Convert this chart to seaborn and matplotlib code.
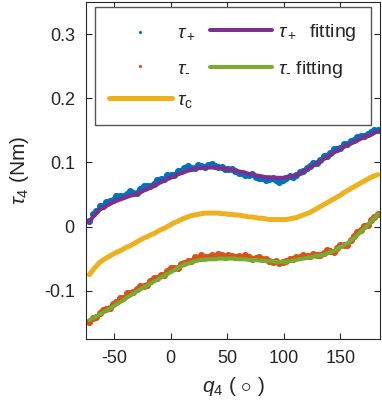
import matplotlib
matplotlib.use("Agg")
import matplotlib.pyplot as plt
import numpy as np
import pandas as pd
import seaborn as sns

# joint angle grid (deg)
q4 = [-72, -69, -66, -63, -60, -57, -54, -51, -48, -45, -42, -39, -36, -33, -30,
      -27, -24, -21, -18, -15, -12, -9, -6, -3, 0, 3, 6, 9, 12, 15, 18, 21, 24,
      27, 30, 33, 36, 39, 42, 45, 48, 51, 54, 57, 60, 63, 66, 69, 72, 75, 78, 81,
      84, 87, 90, 93, 96, 99, 102, 105, 108, 111, 114, 117, 120, 123, 126, 129,
      132, 135, 138, 141, 144, 147, 150, 153, 156, 159, 162, 165, 168, 171, 174,
      177, 180, 183]

# measured torque, positive direction (Nm)
tau_plus = [0.009, 0.020, 0.025, 0.032, 0.032, 0.039, 0.040, 0.042, 0.048, 0.048,
            0.047, 0.051, 0.055, 0.053, 0.053, 0.059, 0.064, 0.063, 0.064, 0.067,
            0.073, 0.074, 0.074, 0.080, 0.080, 0.081, 0.086, 0.086, 0.091, 0.094,
            0.092, 0.092, 0.096, 0.094, 0.093, 0.096, 0.098, 0.095, 0.093, 0.093,
            0.089, 0.090, 0.090, 0.087, 0.084, 0.084, 0.081, 0.081, 0.082, 0.078,
            0.075, 0.076, 0.072, 0.074, 0.075, 0.072, 0.070, 0.073, 0.076, 0.079,
            0.077, 0.080, 0.085, 0.086, 0.091, 0.094, 0.099, 0.099, 0.104, 0.110,
            0.110, 0.115, 0.121, 0.121, 0.122, 0.128, 0.129, 0.134, 0.135, 0.140,
            0.141, 0.141, 0.144, 0.148, 0.150, 0.151]

# measured torque, negative direction (Nm)
tau_minus = [-0.148, -0.142, -0.141, -0.135, -0.130, -0.128, -0.127, -0.120, -0.118, -0.112,
             -0.111, -0.104, -0.103, -0.102, -0.097, -0.092, -0.092, -0.091, -0.085, -0.080,
             -0.080, -0.075, -0.075, -0.070, -0.065, -0.065, -0.064, -0.058, -0.057, -0.053,
             -0.053, -0.048, -0.049, -0.045, -0.047, -0.048, -0.045, -0.047, -0.043, -0.045,
             -0.047, -0.044, -0.046, -0.048, -0.046, -0.048, -0.045, -0.048, -0.050, -0.049,
             -0.048, -0.051, -0.050, -0.053, -0.055, -0.053, -0.057, -0.056, -0.054, -0.051,
             -0.051, -0.048, -0.048, -0.045, -0.046, -0.046, -0.043, -0.044, -0.044, -0.041,
             -0.037, -0.038, -0.039, -0.033, -0.028, -0.028, -0.028, -0.021, -0.015, -0.008,
             -0.006, 0.001, 0.003, 0.011, 0.015, 0.020]

# fitted curves (Nm)
fit_plus = [0.006, 0.015, 0.021, 0.026, 0.029, 0.032, 0.035, 0.038, 0.040, 0.042,
            0.044, 0.046, 0.048, 0.049, 0.051, 0.053, 0.056, 0.058, 0.061, 0.063,
            0.066, 0.069, 0.071, 0.074, 0.076, 0.079, 0.081, 0.083, 0.085, 0.087,
            0.088, 0.090, 0.091, 0.091, 0.092, 0.092, 0.092, 0.092, 0.092, 0.091,
            0.090, 0.089, 0.088, 0.087, 0.086, 0.085, 0.084, 0.082, 0.081, 0.080,
            0.079, 0.078, 0.077, 0.077, 0.076, 0.076, 0.076, 0.076, 0.077, 0.078,
            0.079, 0.080, 0.083, 0.085, 0.088, 0.092, 0.095, 0.098, 0.101, 0.105,
            0.108, 0.111, 0.115, 0.118, 0.121, 0.124, 0.127, 0.129, 0.132, 0.134,
            0.137, 0.139, 0.141, 0.143, 0.146, 0.149]

fit_minus = [-0.146, -0.143, -0.140, -0.137, -0.134, -0.131, -0.128, -0.125, -0.121, -0.118,
             -0.115, -0.111, -0.108, -0.104, -0.101, -0.098, -0.095, -0.092, -0.089, -0.086,
             -0.083, -0.080, -0.077, -0.074, -0.071, -0.068, -0.065, -0.062, -0.059, -0.058,
             -0.056, -0.054, -0.053, -0.052, -0.052, -0.051, -0.051, -0.051, -0.050, -0.050,
             -0.050, -0.050, -0.050, -0.050, -0.051, -0.051, -0.051, -0.052, -0.052, -0.052,
             -0.053, -0.053, -0.054, -0.054, -0.054, -0.055, -0.055, -0.055, -0.055, -0.054,
             -0.053, -0.052, -0.051, -0.050, -0.049, -0.048, -0.047, -0.046, -0.045, -0.044,
             -0.042, -0.040, -0.038, -0.035, -0.032, -0.029, -0.026, -0.022, -0.018, -0.013,
             -0.008, -0.003, 0.002, 0.008, 0.013, 0.019]

tau_c = [-0.075, -0.068, -0.062, -0.056, -0.052, -0.049, -0.046, -0.043, -0.040, -0.038,
         -0.035, -0.032, -0.030, -0.027, -0.024, -0.021, -0.018, -0.016, -0.013, -0.011,
         -0.008, -0.005, -0.003, 0.000, 0.003, 0.006, 0.008, 0.011, 0.013, 0.015,
         0.017, 0.018, 0.019, 0.020, 0.021, 0.021, 0.021, 0.021, 0.021, 0.020,
         0.020, 0.019, 0.019, 0.018, 0.018, 0.017, 0.016, 0.015, 0.015, 0.014,
         0.013, 0.013, 0.012, 0.011, 0.011, 0.011, 0.011, 0.011, 0.011, 0.012,
         0.013, 0.014, 0.016, 0.018, 0.020, 0.022, 0.025, 0.028, 0.031, 0.034,
         0.037, 0.040, 0.043, 0.046, 0.049, 0.053, 0.056, 0.059, 0.062, 0.065,
         0.068, 0.071, 0.074, 0.077, 0.079, 0.081]

df = pd.DataFrame({"q4": q4, "tau_plus": tau_plus, "tau_minus": tau_minus,
                   "fit_plus": fit_plus, "fit_minus": fit_minus, "tau_c": tau_c})

sns.set_style("ticks")
plt.rcParams["font.family"] = ["Liberation Sans", "DejaVu Sans"]
plt.rcParams["mathtext.fontset"] = "custom"
plt.rcParams["mathtext.rm"] = "Liberation Sans"
plt.rcParams["mathtext.it"] = "Liberation Sans:italic"
plt.rcParams["axes.unicode_minus"] = False

blue, orange, yellow, purple, green = "#0072BD", "#D95319", "#EDB120", "#7E2F8E", "#77AC30"
dark = "#262626"

fig = plt.figure(figsize=(3.82, 4.01), dpi=100)
ax = fig.add_axes([0.225, 0.155, 0.77, 0.84])

sns.scatterplot(data=df, x="q4", y="tau_plus", ax=ax, color=blue, s=26,
                linewidth=0, label=r"$\tau_+$")
sns.scatterplot(data=df, x="q4", y="tau_minus", ax=ax, color=orange, s=26,
                linewidth=0, label=r"$\tau_\text{-}$")
sns.lineplot(data=df, x="q4", y="tau_c", ax=ax, color=yellow, lw=3.6,
             sort=False, label=r"$\tau_\mathrm{c}$")
sns.lineplot(data=df, x="q4", y="fit_plus", ax=ax, color=purple, lw=2.9,
             sort=False, label=r"$\tau_+$  fitting")
sns.lineplot(data=df, x="q4", y="fit_minus", ax=ax, color=green, lw=2.9,
             sort=False, label=r"$\tau_\text{-}$ fitting")

ax.set_xlim(-75, 185)
ax.set_ylim(-0.175, 0.35)
ax.set_xticks([-50, 0, 50, 100, 150])
ax.set_yticks([-0.1, 0, 0.1, 0.2, 0.3])
ax.set_yticklabels(["-0.1", "0", "0.1", "0.2", "0.3"])
ax.tick_params(direction="in", top=True, right=True, length=4, width=0.8,
               labelsize=13, color=dark, labelcolor=dark, pad=8)
for sp in ax.spines.values():
    sp.set_visible(True)
    sp.set_color(dark)
    sp.set_linewidth(0.8)

ax.set_xlabel(r"$q_4$ ( $\circ$ )", fontsize=15, color=dark, labelpad=6)
ax.set_ylabel(r"$\tau_4$ (Nm)", fontsize=15, color=dark, labelpad=9)

handles, labels = ax.get_legend_handles_labels()
leg = ax.legend(handles, labels, ncol=2, loc="upper left", bbox_to_anchor=(0.03, 0.985),
                fontsize=14, frameon=True, fancybox=False, framealpha=1,
                edgecolor="#555555", handlelength=3.2, handletextpad=0.3,
                columnspacing=0.7, labelspacing=0.85, markerscale=0.45,
                borderpad=0.75, borderaxespad=0)
leg.get_frame().set_linewidth(1.0)

fig.savefig("out.png", dpi=100)
